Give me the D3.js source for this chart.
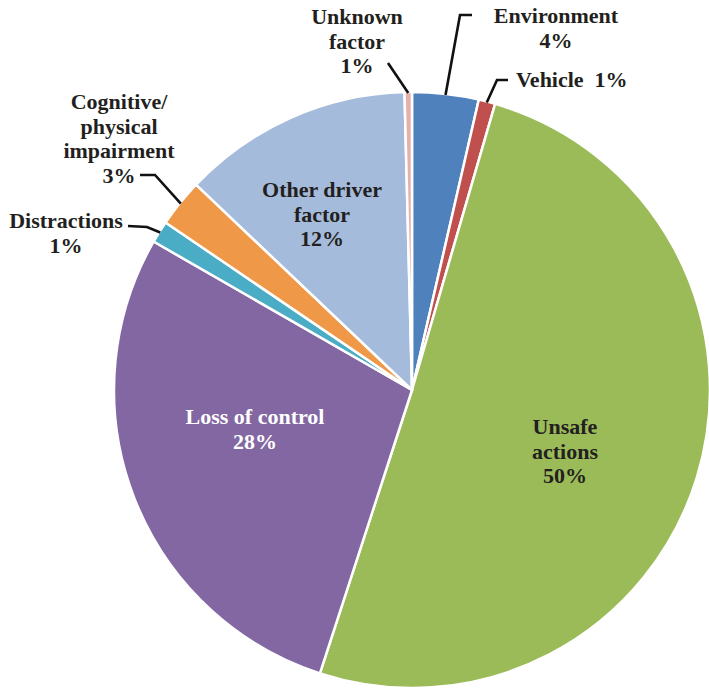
<!DOCTYPE html>
<html><head><meta charset="utf-8">
<script src="https://cdn.jsdelivr.net/npm/d3@7/dist/d3.min.js"></script>
<style>body{margin:0;background:#fff}svg{display:block}</style>
</head><body>
<svg id="chart" width="709" height="692"></svg>
<script>
// Data (clockwise from 12 o'clock)
const categories = ["Environment","Vehicle","Unsafe actions","Loss of control","Distractions","Cognitive/ physical impairment","Other driver factor","Unknown factor"];
const values = [3.6, 0.9, 50.5, 28.3, 1.2, 2.6, 12.5, 0.4];
const pctLabels = ["4%","1%","50%","28%","1%","3%","12%","1%"];
const colors = ["#4f81bd","#c0504d","#9bbb59","#8367a2","#4bacc6","#ef9848","#a5bbdb","#e6b0ac"];

const svg = d3.select("#chart");
const cx = 412, cy = 390, r = 298;
const g = svg.append("g").attr("transform", `translate(${cx},${cy})`);

const pie = d3.pie().sort(null).value(d => d.v);
const arcs = pie(categories.map((c,i)=>({c, v: values[i], p: pctLabels[i], col: colors[i]})));
const arc = d3.arc().innerRadius(0).outerRadius(r);

g.selectAll("path.slice").data(arcs).join("path")
  .attr("class","slice")
  .attr("d", arc)
  .attr("fill", d => d.data.col)
  .attr("stroke", "#fff")
  .attr("stroke-width", 2.5)
  .attr("stroke-linejoin", "round");

const font = "'Liberation Serif', 'Times New Roman', serif";
const fs = 22, lh = 24.5;

const labelSpec = {
  "Environment": {x: 556, y: 23, lines: ["Environment", "4%"], anchor: "middle"},
  "Vehicle": {x: 516, y: 87, lines: ["Vehicle\u00a0\u00a01%"], anchor: "start"},
  "Unsafe actions": {x: 565, y: 434, lines: ["Unsafe", "actions", "50%"], anchor: "middle"},
  "Loss of control": {x: 255, y: 424, lines: ["Loss of control", "28%"], anchor: "middle", fill: "#fff"},
  "Distractions": {x: 66, y: 228, lines: ["Distractions", "1%"], anchor: "middle"},
  "Cognitive/ physical impairment": {x: 119, y: 109, lines: ["Cognitive/", "physical", "impairment", "3%"], anchor: "middle"},
  "Other driver factor": {x: 322, y: 197, lines: ["Other driver", "factor", "12%"], anchor: "middle"},
  "Unknown factor": {x: 357, y: 24, lines: ["Unknown", "factor", "1%"], anchor: "middle"}
};

const leaders = {
  "Environment": [[460, 15], [472, 15]],
  "Vehicle": [[497, 80], [508, 80]],
  "Distractions": [[147, 227], [128, 226]],
  "Cognitive/ physical impairment": [[155, 175], [140, 175]],
  "Unknown factor": [[388, 63]]
};

const lineGen = d3.line();
arcs.forEach(d => {
  const key = d.data.c;
  if (leaders[key]) {
    const a = (d.startAngle + d.endAngle) / 2;
    const rr = r - 1;
    const p0 = [cx + rr * Math.sin(a), cy - rr * Math.cos(a)];
    svg.append("path")
      .attr("d", lineGen([p0, ...leaders[key]]))
      .attr("fill", "none")
      .attr("stroke", "#111")
      .attr("stroke-width", 2.6);
  }
});

arcs.forEach(d => {
  const s = labelSpec[d.data.c];
  const t = svg.append("text")
    .attr("x", s.x).attr("y", s.y)
    .attr("text-anchor", s.anchor)
    .attr("font-family", font)
    .attr("font-size", fs)
    .attr("font-weight", "bold")
    .attr("fill", s.fill || "#231f20");
  s.lines.forEach((ln, i) => {
    t.append("tspan").attr("x", s.x).attr("dy", i === 0 ? 0 : lh).text(ln);
  });
});
</script>
</body></html>
